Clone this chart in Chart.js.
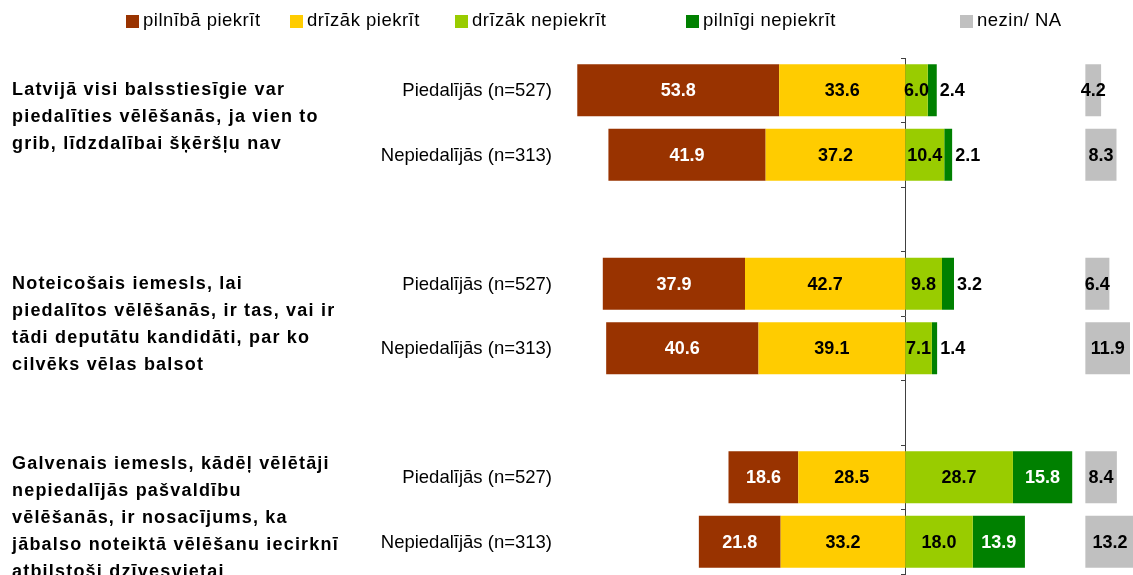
<!DOCTYPE html>
<html>
<head>
<meta charset="utf-8">
<script src="https://cdn.jsdelivr.net/npm/chart.js@4/dist/chart.umd.min.js"></script>
<style>
  body { margin: 0; background: #fff; }
  #wrap { width: 1133px; height: 575px; position: relative; }
</style>
</head>
<body>
<div id="wrap"><canvas id="chart"></canvas></div>
<script>
// rows: two sample groups per question, empty row between questions
const rowLabels = ['Piedalījās (n=527)', 'Nepiedalījās (n=313)', '', 'Piedalījās (n=527)', 'Nepiedalījās (n=313)', '', 'Piedalījās (n=527)', 'Nepiedalījās (n=313)'];

const fullyAgree     = [53.8, 41.9, null, 37.9, 40.6, null, 18.6, 21.8];
const ratherAgree    = [33.6, 37.2, null, 42.7, 39.1, null, 28.5, 33.2];
const ratherDisagree = [6.0, 10.4, null, 9.8, 7.1, null, 28.7, 18.0];
const fullyDisagree  = [2.4, 2.1, null, 3.2, 1.4, null, 15.8, 13.9];
const dontKnow       = [4.2, 8.3, null, 6.4, 11.9, null, 8.4, 13.2];

const seriesNames = ['pilnībā piekrīt', 'drīzāk piekrīt', 'drīzāk nepiekrīt', 'pilnīgi nepiekrīt', 'nezin/ NA'];

const questions = [
    ['Latvijā visi balsstiesīgie var', 'piedalīties vēlēšanās, ja vien to', 'grib, līdzdalībai šķēršļu nav'],
    ['Noteicošais iemesls, lai', 'piedalītos vēlēšanās, ir tas, vai ir', 'tādi deputātu kandidāti, par ko', 'cilvēks vēlas balsot'],
    ['Galvenais iemesls, kādēļ vēlētāji', 'nepiedalījās pašvaldību', 'vēlēšanās, ir nosacījums, ka', 'jābalso noteiktā vēlēšanu iecirknī', 'atbilstoši dzīvesvietai']
];
const questionFirstRow = [0, 3, 6];

// NA bars are drawn apart from the diverging bars, starting at this value
const NA_START = 48;

const COLORS = ['#993300', '#FFCC00', '#99CC00', '#008000', '#C0C0C0'];
const LEGEND_X = [126, 290, 455, 686, 960];
const FONT = '"Liberation Sans", Arial, sans-serif';

const neg = arr => arr.map(v => v == null ? null : -v);

const textPlugin = {
    id: 'texts',
    afterDatasetsDraw(chart) {
        const ctx = chart.ctx;
        ctx.save();
        ctx.font = 'bold 18px ' + FONT;
        ctx.textBaseline = 'middle';
        chart.data.datasets.forEach((ds, di) => {
            const meta = chart.getDatasetMeta(di);
            meta.data.forEach((bar, i) => {
                const v = ds.src[i];
                if (v == null) return;
                const p = bar.getProps(['x', 'base', 'y'], true);
                const txt = v.toFixed(1);
                if (ds.outsideBelow && v < ds.outsideBelow) {
                    ctx.textAlign = 'left';
                    ctx.fillStyle = '#000';
                    ctx.fillText(txt, Math.max(p.x, p.base) + 3, p.y + 1);
                } else {
                    ctx.textAlign = 'center';
                    ctx.fillStyle = ds.labelColor;
                    ctx.fillText(txt, (p.x + p.base) / 2, p.y + 1);
                }
            });
        });
        ctx.restore();
    },
    afterDraw(chart) {
        const ctx = chart.ctx;
        const y = chart.scales.y;
        const area = chart.chartArea;
        ctx.save();
        ctx.textBaseline = 'middle';

        // legend
        ctx.font = '18.5px ' + FONT;
        ctx.textAlign = 'left';
        ctx.letterSpacing = '0.5px';
        seriesNames.forEach((name, i) => {
            ctx.fillStyle = COLORS[i];
            ctx.fillRect(LEGEND_X[i], 15, 13, 13);
            ctx.fillStyle = '#000';
            ctx.fillText(name, LEGEND_X[i] + 17, 21);
        });
        ctx.letterSpacing = '0px';

        // sample labels
        ctx.textAlign = 'right';
        rowLabels.forEach((lab, i) => {
            if (lab) ctx.fillText(lab, area.left + 22, y.getPixelForValue(i) + 1);
        });

        // question texts
        ctx.font = 'bold 18px ' + FONT;
        ctx.textAlign = 'left';
        ctx.letterSpacing = '1.2px';
        const lh = 27;
        questions.forEach((lines, q) => {
            let top = y.getPixelForValue(questionFirstRow[q]);
            const last = top + (lines.length - 1) * lh;
            if (last > area.bottom - 2) top -= last - (area.bottom - 2);
            lines.forEach((line, k) => ctx.fillText(line, 12, top + k * lh));
        });
        ctx.restore();
    }
};

new Chart(document.getElementById('chart'), {
    type: 'bar',
    data: {
        labels: rowLabels,
        datasets: [
            // stacking order: the first one sits next to zero
            { label: seriesNames[1], data: neg(ratherAgree), src: ratherAgree, backgroundColor: COLORS[1], labelColor: '#000' },
            { label: seriesNames[0], data: neg(fullyAgree), src: fullyAgree, backgroundColor: COLORS[0], labelColor: '#fff' },
            { label: seriesNames[2], data: ratherDisagree, src: ratherDisagree, backgroundColor: COLORS[2], labelColor: '#000' },
            { label: seriesNames[3], data: fullyDisagree, src: fullyDisagree, backgroundColor: COLORS[3], labelColor: '#fff', outsideBelow: 5 },
            { label: seriesNames[4], data: dontKnow.map(v => v == null ? null : [NA_START, NA_START + v]), src: dontKnow,
              backgroundColor: COLORS[4], labelColor: '#000', xAxisID: 'x2' }
        ]
    },
    options: {
        indexAxis: 'y',
        responsive: true,
        maintainAspectRatio: false,
        animation: false,
        barPercentage: 0.806,
        categoryPercentage: 1,
        layout: { padding: { left: 530, right: 0, top: 58, bottom: 1 } },
        plugins: { legend: { display: false }, tooltip: { enabled: false } },
        scales: {
            x: { type: 'linear', min: -100, max: 60.7, stacked: true, display: false },
            x2: { type: 'linear', min: -100, max: 60.7, stacked: false, display: false },
            y: {
                stacked: true,
                position: { x: 0 },
                grid: { drawOnChartArea: false, offset: true, tickLength: 4, color: '#404040' },
                border: { color: '#404040', width: 1 },
                ticks: { display: false }
            }
        }
    },
    plugins: [textPlugin]
});
</script>
</body>
</html>
